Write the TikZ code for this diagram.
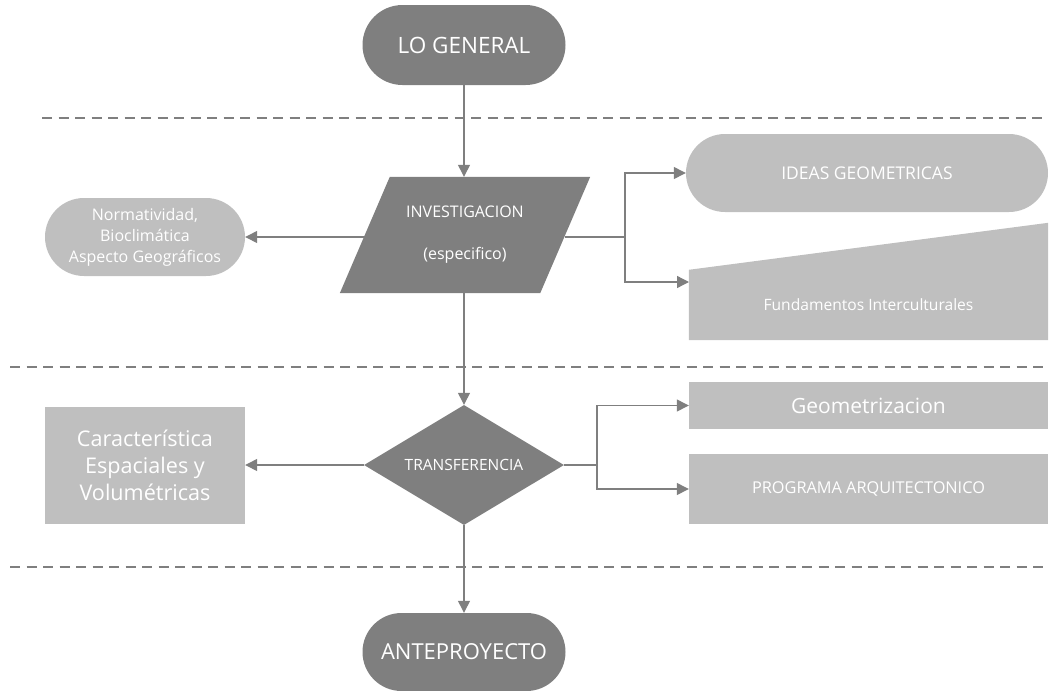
\documentclass[tikz,border=0pt]{standalone}
\usepackage{fontspec}
\setmainfont{Open Sans}
\usetikzlibrary{shapes.geometric,shapes.misc,arrows.meta,backgrounds}
\definecolor{dk}{HTML}{7F7F7F}
\definecolor{lt}{HTML}{BFBFBF}
\begin{document}
\begin{tikzpicture}[x=1pt,y=-1pt,
  darkstad/.style={rounded rectangle, fill=dk, text=white, inner sep=0pt, minimum width=203pt, minimum height=80pt, font=\fontsize{22.5}{26}\selectfont},
  lightstad/.style={rounded rectangle, fill=lt, text=white, inner sep=0pt, font=\fontsize{16}{21}\selectfont, align=center},
  lightbox/.style={rectangle, fill=lt, text=white, inner sep=0pt, align=center},
  conn/.style={draw=dk, line width=1.3pt},
  arr/.style={conn, -{Triangle[length=12pt,width=12pt]}},
  sep/.style={draw=dk, line width=1.2pt, dash pattern=on 10pt off 6.5pt}]
\useasboundingbox (0,0) rectangle (1050,691);

% separators
\draw[sep] (42,118) -- (1048,118);
\draw[sep] (10,367) -- (1048,367);
\draw[sep] (10,567) -- (1048,567);

% nodes
\node[darkstad] (lg) at (464,45) {LO GENERAL};

\node[rectangle, minimum width=200pt, minimum height=116pt, inner sep=0pt, text=white, align=center, font=\fontsize{16}{18}\selectfont] (inv) at (465,235) {INVESTIGACION\\[24pt](especifico)};
\begin{scope}[on background layer]
\fill[dk] ([xshift=25pt]inv.north west) -- ([xshift=25pt]inv.north east) -- ([xshift=-25pt]inv.south east) -- ([xshift=-25pt]inv.south west) -- cycle;
\end{scope}

\node[lightstad, minimum width=200pt, minimum height=78pt] (norm) at (145,237) {Normatividad,\\Bioclimática\\Aspecto Geográficos};

\node[lightstad, minimum width=362pt, minimum height=78pt, font=\fontsize{17.5}{20}\selectfont] (ideas) at (867,173) {IDEAS GEOMETRICAS};

\node[rectangle, inner sep=0pt, minimum width=359pt, minimum height=70pt, text=white, font=\fontsize{15.6}{18}\selectfont] (fun) at (868.5,305) {Fundamentos Interculturales};
\begin{scope}[on background layer]
\fill[lt] (fun.south west) -- (fun.north west) -- ([yshift=47pt]fun.north east) -- (fun.south east) -- cycle;
\end{scope}

\node[diamond, fill=dk, text=white, inner sep=0pt, aspect=1.667, minimum width=200pt, minimum height=120pt, font=\fontsize{15.5}{18}\selectfont] (tr) at (464,465) {TRANSFERENCIA};

\node[lightbox, minimum width=200pt, minimum height=117pt, font=\fontsize{21.6}{27}\selectfont] (car) at (145,465.5) {Característica\\Espaciales y\\Volumétricas};

\node[lightbox, minimum width=359pt, minimum height=47pt, font=\fontsize{21}{25}\selectfont] (geo) at (868.5,405.5) {Geometrizacion};
\node[lightbox, minimum width=359pt, minimum height=70pt, font=\fontsize{16.3}{19}\selectfont] (prog) at (868.5,489) {PROGRAMA ARQUITECTONICO};

\node[darkstad, minimum height=78pt, font=\fontsize{22}{26}\selectfont] (ante) at (464,652) {ANTEPROYECTO};

% connectors
\draw[arr] (lg.south) -- (lg.south |- inv.north);
\draw[arr] (norm.east -| inv.west) -- (norm.east);
\coordinate (b1) at (625,237);
\coordinate (funin) at (689,282);
\draw[conn] (inv.east |- b1) -- (b1);
\draw[arr] (b1) |- (ideas.west);
\draw[arr] (b1) |- (funin);
\draw[arr] (inv.south -| tr.north) -- (tr.north);
\draw[arr] (tr.west) -- (tr.west -| car.east);
\coordinate (b2) at (597,465);
\draw[conn] (tr.east) -- (b2);
\draw[arr] (b2) |- (geo.west);
\draw[arr] (b2) |- (prog.west);
\draw[arr] (tr.south) -- (ante.north);
\end{tikzpicture}
\end{document}
